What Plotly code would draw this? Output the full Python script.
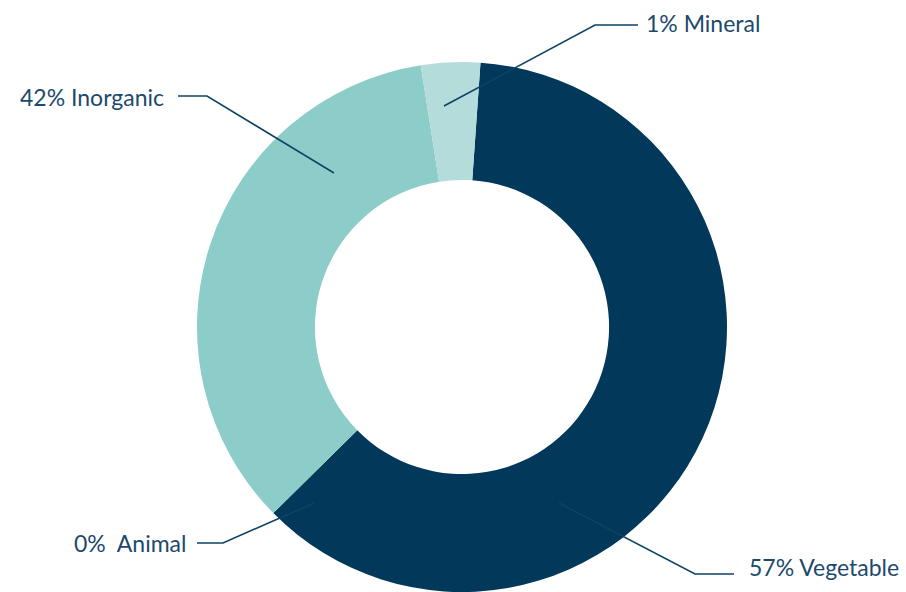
import plotly.graph_objects as go

# Data
categories = ["Vegetable", "Animal", "Inorganic", "Mineral"]
values = [61.5, 0.0, 34.9, 3.6]
label_texts = ["57% Vegetable", "0%  Animal", "42% Inorganic", "1% Mineral"]
colors = ["#02385a", "#5aa9b0", "#8ccdca", "#b3dcdb"]

W, H = 906, 592
L, R, T, B = 197, 179, 62, 0

def px(x, y):
    return (x - L) / (W - L - R), 1 - (y - T) / (H - T - B)

fig = go.Figure(go.Pie(
    labels=categories, values=values, marker=dict(colors=colors, line=dict(width=0)),
    hole=0.555, sort=False, direction="clockwise", rotation=4,
    textinfo="none", hoverinfo="label+percent", showlegend=False,
))

# leader lines (pixel paths) and label placement
leaders = [
    [(559, 503), (695, 574), (734, 574)],
    [(314, 503), (223, 543), (197, 543)],
    [(334, 173), (207, 96), (178, 96)],
    [(444, 106), (595, 25), (638, 25)],
]
label_pos = [((747, 567), "left"), ((188, 543), "right"), ((166, 97), "right"), ((644, 23), "left")]

shapes = []
for pts in leaders:
    path = ""
    for i, (x, y) in enumerate(pts):
        a, b = px(x, y)
        path += ("M" if i == 0 else " L") + f"{a},{b}"
    shapes.append(dict(type="path", path=path, xref="paper", yref="paper",
                       line=dict(color="#0d4466", width=1.6)))

annotations = []
for txt, ((x, y), anc) in zip(label_texts, label_pos):
    a, b = px(x, y)
    annotations.append(dict(x=a, y=b, xref="paper", yref="paper", text=txt, showarrow=False,
                            xanchor=anc, yanchor="middle",
                            font=dict(family="Lato", size=23, color="#1d4a6c")))

fig.update_layout(
    width=W, height=H, margin=dict(l=L, r=R, t=T, b=B),
    paper_bgcolor="white", plot_bgcolor="white",
    shapes=shapes, annotations=annotations,
)
fig.write_html("out.html")
